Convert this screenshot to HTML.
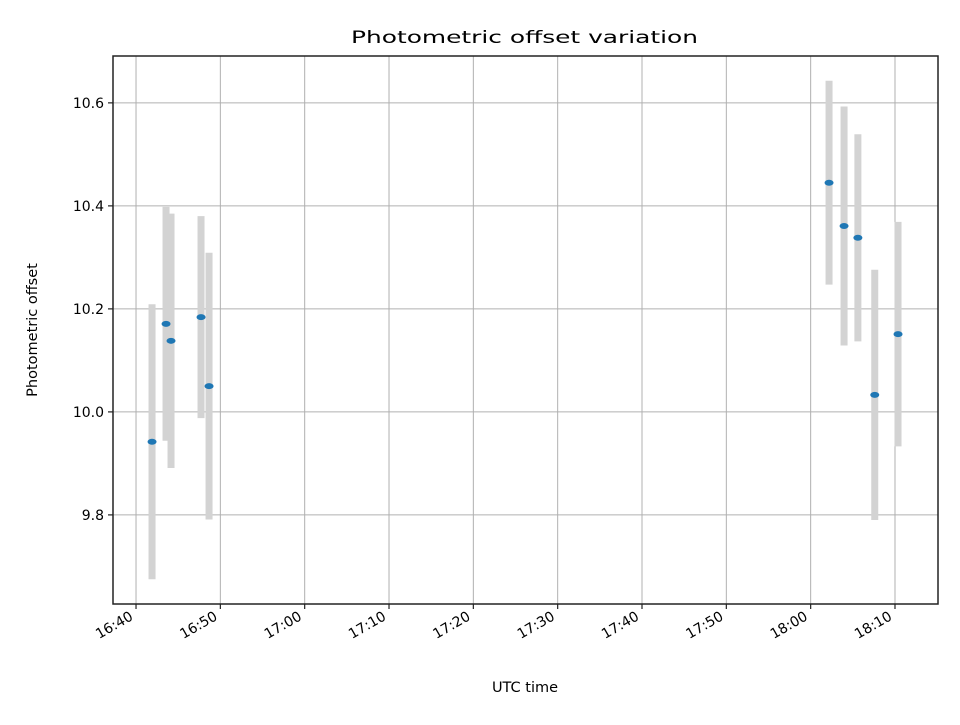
<!DOCTYPE html>
<html><head><meta charset="utf-8"><style>
body{margin:0;background:#fff}
svg text{font-family:"DejaVu Sans","Liberation Sans",sans-serif;fill:#000}
</style></head><body>
<svg id="chart" width="960" height="720" xmlns="http://www.w3.org/2000/svg">
<rect width="960" height="720" fill="#fff"/>
<text x="351" y="43" font-size="17" textLength="347" lengthAdjust="spacingAndGlyphs">Photometric offset variation</text>
<g id="grid"></g><g id="bars"></g><g id="pts"></g><g id="axes"></g>
<rect x="113" y="56" width="825" height="548" fill="none" stroke="#222" stroke-width="1.5"/>
<text x="525" y="692" text-anchor="middle" font-size="14.5">UTC time</text>
<text transform="translate(37,330) rotate(-90)" text-anchor="middle" font-size="14.5">Photometric offset</text>
</svg>
<script>
// minutes after 16:40
const times=[1.9,3.56,4.15,7.71,8.66,82.18,83.96,85.6,87.6,90.36];
const values=[9.942,10.171,10.138,10.184,10.050,10.445,10.361,10.338,10.033,10.151];
const errors=[0.267,0.227,0.247,0.196,0.259,0.198,0.232,0.201,0.243,0.218];
const xTicks=[0,10,20,30,40,50,60,70,80,90];
const xTickLabels=["16:40","16:50","17:00","17:10","17:20","17:30","17:40","17:50","18:00","18:10"];
const yTicks=[9.8,10.0,10.2,10.4,10.6];
const yTickLabels=["9.8","10.0","10.2","10.4","10.6"];
const X0=113,X1=938,Y0=604,Y1=56,xmin=-2.73,xmax=95.1,ymin=9.627,ymax=10.691;
const sx=v=>X0+(v-xmin)/(xmax-xmin)*(X1-X0);
const sy=v=>Y0-(v-ymin)/(ymax-ymin)*(Y0-Y1);
const NS="http://www.w3.org/2000/svg";
function mk(t,a,p){const e=document.createElementNS(NS,t);for(const k in a)e.setAttribute(k,a[k]);p.appendChild(e);return e;}
const G=document.getElementById('grid'),B=document.getElementById('bars'),P=document.getElementById('pts'),A=document.getElementById('axes');
xTicks.forEach((t,i)=>{const x=sx(t);
const l=mk('line',{x1:x,x2:x,y1:Y1,y2:Y0,stroke:'#b0b0b0','stroke-width':1},G);


mk('line',{x1:x,x2:x,y1:Y0,y2:Y0+5,stroke:'#222','stroke-width':1.2},A);
const ax=x-2,ay=Y0+15;
const tx=mk('text',{x:ax,y:ay,'text-anchor':'end','font-size':14,transform:`rotate(-30 ${ax} ${ay})`},A);
tx.textContent=xTickLabels[i];

});
yTicks.forEach((t,i)=>{const y=sy(t);
const l=mk('line',{x1:X0,x2:X1,y1:y,y2:y,stroke:'#b0b0b0','stroke-width':1},G);


mk('line',{x1:X0-5,x2:X0,y1:y,y2:y,stroke:'#222','stroke-width':1.2},A);
const tx=mk('text',{x:X0-9,y:y+5,'text-anchor':'end','font-size':14},A);
tx.textContent=yTickLabels[i];

});
times.forEach((t,i)=>{const x=sx(t);
const b=mk('line',{x1:x,x2:x,y1:sy(values[i]+errors[i]),y2:sy(values[i]-errors[i]),stroke:'#d3d3d3','stroke-width':7},B);


const c=mk('ellipse',{cx:x,cy:sy(values[i]),rx:4.5,ry:3,fill:'#1f77b4'},P);

});
</script>
</body></html>
